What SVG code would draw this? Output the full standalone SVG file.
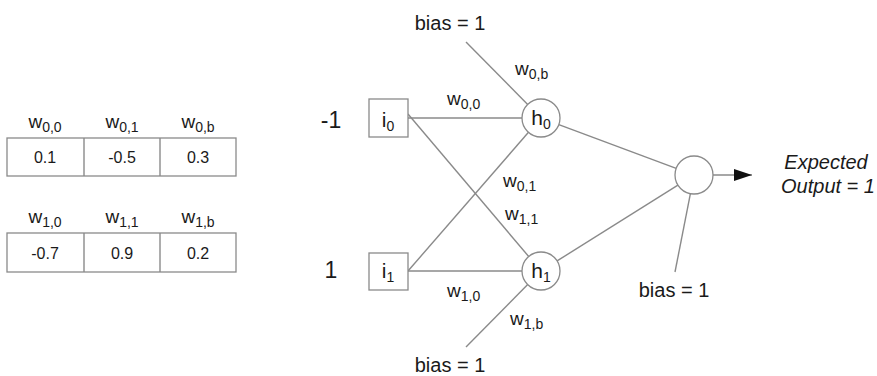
<svg xmlns="http://www.w3.org/2000/svg" width="877" height="376" viewBox="0 0 877 376">
<defs>
<style>
text{font-family:"Liberation Sans",Arial,sans-serif;fill:#1a1a1a}
.box{fill:#fff;stroke:#8a8a8a;stroke-width:1.3}
.ln{stroke:#8a8a8a;stroke-width:1.4;fill:none}
.w{font-size:19px}
.sub{font-size:14px}
.val{font-size:16px;text-anchor:middle}
.mid{text-anchor:middle}
.big{font-size:23px;text-anchor:middle}
.nd{font-size:21px;text-anchor:middle}
.bias{font-size:20px;text-anchor:middle}
.out{font-size:20px;font-style:italic;text-anchor:middle}
</style>
<marker id="arr" markerWidth="18" markerHeight="12" refX="18" refY="6" orient="auto" markerUnits="userSpaceOnUse">
<path d="M0,0 L18,6 L0,12 Z" fill="#111"/>
</marker>
</defs>
<rect width="877" height="376" fill="#fff"/>

<g id="table0">
<rect class="box" x="7" y="138" width="229" height="38"/>
<line class="ln" x1="84" y1="138" x2="84" y2="176"/>
<line class="ln" x1="160" y1="138" x2="160" y2="176"/>
<text class="w mid" x="45" y="128">w<tspan class="sub" dy="4">0,0</tspan></text>
<text class="w mid" x="122" y="128">w<tspan class="sub" dy="4">0,1</tspan></text>
<text class="w mid" x="198" y="128">w<tspan class="sub" dy="4">0,b</tspan></text>
<text class="val" x="45" y="163">0.1</text>
<text class="val" x="122" y="163">-0.5</text>
<text class="val" x="198" y="163">0.3</text>
</g>
<g id="table1">
<rect class="box" x="7" y="233" width="229" height="39"/>
<line class="ln" x1="84" y1="233" x2="84" y2="272"/>
<line class="ln" x1="160" y1="233" x2="160" y2="272"/>
<text class="w mid" x="45" y="223">w<tspan class="sub" dy="4">1,0</tspan></text>
<text class="w mid" x="122" y="223">w<tspan class="sub" dy="4">1,1</tspan></text>
<text class="w mid" x="198" y="223">w<tspan class="sub" dy="4">1,b</tspan></text>
<text class="val" x="45" y="259">-0.7</text>
<text class="val" x="122" y="259">0.9</text>
<text class="val" x="198" y="259">0.2</text>
</g>

<g id="connectors">
<line class="ln" x1="408" y1="118" x2="522" y2="118"/>
<line class="ln" x1="408" y1="114" x2="528.7" y2="256.5"/>
<line class="ln" x1="408" y1="271" x2="528.5" y2="132.3"/>
<line class="ln" x1="408" y1="271" x2="522" y2="271"/>
<line class="ln" x1="466" y1="42" x2="527.7" y2="104.5"/>
<line class="ln" x1="466" y1="347" x2="527.7" y2="284.5"/>
<line class="ln" x1="558.8" y1="124.6" x2="676.2" y2="168.4"/>
<line class="ln" x1="557.1" y1="260.9" x2="677.9" y2="185.1"/>
<line class="ln" x1="675" y1="272" x2="690.4" y2="193.7"/>
<line class="ln" x1="713" y1="175" x2="752" y2="175" marker-end="url(#arr)"/>
<text class="w" x="515" y="75">w<tspan class="sub" dy="4">0,b</tspan></text>
<text class="w" x="447" y="105">w<tspan class="sub" dy="4">0,0</tspan></text>
<text class="w" x="503" y="187">w<tspan class="sub" dy="4">0,1</tspan></text>
<text class="w" x="505" y="220">w<tspan class="sub" dy="4">1,1</tspan></text>
<text class="w" x="447" y="297">w<tspan class="sub" dy="4">1,0</tspan></text>
<text class="w" x="510" y="325">w<tspan class="sub" dy="4">1,b</tspan></text>
</g>

<g id="in0-value"><text class="big" x="331" y="128">-1</text></g>
<g id="in1-value"><text class="big" x="331" y="278">1</text></g>

<g id="i0">
<rect class="box" x="369" y="99" width="39" height="38"/>
<text class="nd" x="388" y="127">i<tspan class="sub" dy="4">0</tspan></text>
</g>
<g id="i1">
<rect class="box" x="369" y="253" width="39" height="37"/>
<text class="nd" x="388" y="278">i<tspan class="sub" dy="4">1</tspan></text>
</g>
<g id="h0">
<circle class="box" cx="541" cy="118" r="19"/>
<text class="nd" x="541" y="125">h<tspan class="sub" dy="4">0</tspan></text>
</g>
<g id="h1">
<circle class="box" cx="541" cy="271" r="19"/>
<text class="nd" x="541" y="278">h<tspan class="sub" dy="4">1</tspan></text>
</g>
<g id="output">
<circle class="box" cx="694" cy="175" r="19"/>
</g>
<g id="bias-top"><text class="bias" x="450" y="30">bias = 1</text></g>
<g id="bias-bottom"><text class="bias" x="450" y="372">bias = 1</text></g>
<g id="bias-out"><text class="bias" x="674" y="297">bias = 1</text></g>
<g id="expected">
<text class="out" x="826" y="169">Expected</text>
<text class="out" x="828" y="193">Output = 1</text>
</g>
</svg>
